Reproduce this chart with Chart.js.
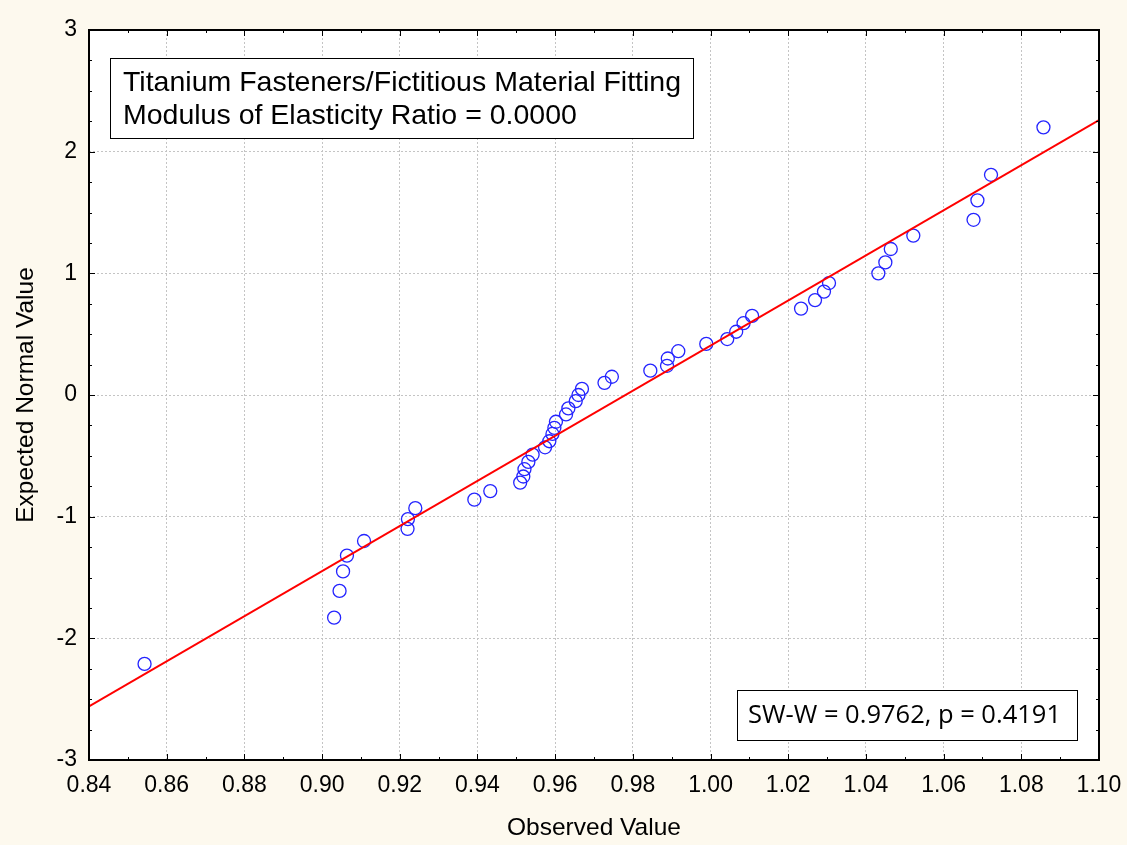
<!DOCTYPE html>
<html>
<head>
<meta charset="utf-8">
<script src="https://cdn.jsdelivr.net/npm/chart.js@4.4.1/dist/chart.umd.min.js"></script>
<style>
  html, body { margin: 0; padding: 0; background: #fdf9ee; }
</style>
</head>
<body>
<canvas id="myChart" width="1127" height="845"></canvas>
<script>
// values
const observed = [
  0.8543, 0.9031, 0.9045, 0.9054, 0.9064, 0.9108, 0.9220, 0.9221, 0.9240, 0.9392,
  0.9433, 0.9510, 0.9518, 0.9521, 0.9531, 0.9542, 0.9574, 0.9585, 0.9593, 0.9598,
  0.9602, 0.9628, 0.9634, 0.9653, 0.9660, 0.9669, 0.9727, 0.9746, 0.9845, 0.9888,
  0.9890, 0.9917, 0.9989, 1.0043, 1.0066, 1.0085, 1.0107, 1.0233, 1.0269, 1.0292,
  1.0305, 1.0432, 1.0450, 1.0464, 1.0522, 1.0677, 1.0687, 1.0722, 1.0857,
]
const expected = [
  -2.21, -1.83, -1.61, -1.45, -1.32, -1.20, -1.10, -1.02, -0.93, -0.86,
  -0.79, -0.72, -0.67, -0.61, -0.55, -0.49, -0.43, -0.38, -0.32, -0.27,
  -0.22, -0.16, -0.11, -0.05, 0.00, 0.05, 0.10, 0.15, 0.20, 0.24,
  0.30, 0.36, 0.42, 0.46, 0.52, 0.59, 0.65, 0.71, 0.78, 0.85,
  0.92, 1.00, 1.09, 1.20, 1.31, 1.44, 1.60, 1.81, 2.20,
]
const fitX = [0.84, 1.10]
const fitY = [-2.56, 2.26]

const xTickValues = [0.84, 0.86, 0.88, 0.90, 0.92, 0.94, 0.96, 0.98, 1.00, 1.02, 1.04, 1.06, 1.08, 1.10]
const xTickLabels = ['0.84', '0.86', '0.88', '0.90', '0.92', '0.94', '0.96', '0.98', '1.00', '1.02', '1.04', '1.06', '1.08', '1.10']
const yTickValues = [-3, -2, -1, 0, 1, 2, 3]
const yTickLabels = ['-3', '-2', '-1', '0', '1', '2', '3']

const titleLines = ['Titanium Fasteners/Fictitious Material Fitting', 'Modulus of Elasticity Ratio = 0.0000']
const statText = 'SW-W = 0.9762, p = 0.4191'

const arial = '"Liberation Sans", Arial, sans-serif'
const ctx = document.getElementById('myChart').getContext('2d')

// background, frame, inward tick marks and the two text boxes
const frame = {
  id: 'frame',
  beforeDraw(chart) {
    const { ctx, chartArea: a } = chart
    ctx.save()
    ctx.fillStyle = '#fdf9ee'
    ctx.fillRect(0, 0, chart.width, chart.height)
    ctx.fillStyle = '#ffffff'
    ctx.fillRect(a.left, a.top, a.right - a.left, a.bottom - a.top)
    ctx.restore()
  },
  afterDraw(chart) {
    const { ctx, chartArea: a, scales } = chart
    ctx.save()
    ctx.strokeStyle = '#000'
    ctx.lineWidth = 1
    ctx.beginPath()
    xTickValues.forEach((v, i) => {
      const x = Math.round(scales.x.getPixelForValue(v)) + 0.5
      ctx.moveTo(x, a.bottom); ctx.lineTo(x, a.bottom - 6)
      ctx.moveTo(x, a.top); ctx.lineTo(x, a.top + 6)
      if (i < xTickValues.length - 1) {
        const m = Math.round(scales.x.getPixelForValue((v + xTickValues[i + 1]) / 2)) + 0.5
        ctx.moveTo(m, a.bottom); ctx.lineTo(m, a.bottom - 3)
        ctx.moveTo(m, a.top); ctx.lineTo(m, a.top + 3)
      }
    })
    yTickValues.forEach((v, i) => {
      const y = Math.round(scales.y.getPixelForValue(v)) + 0.5
      ctx.moveTo(a.left, y); ctx.lineTo(a.left + 6, y)
      ctx.moveTo(a.right, y); ctx.lineTo(a.right - 6, y)
      if (i < yTickValues.length - 1) {
        for (let q = 1; q < 4; q++) {
          const m = Math.round(scales.y.getPixelForValue(v + q / 4)) + 0.5
          ctx.moveTo(a.left, m); ctx.lineTo(a.left + 3, m)
          ctx.moveTo(a.right, m); ctx.lineTo(a.right - 3, m)
        }
      }
    })
    ctx.stroke()

    ctx.lineWidth = 2
    ctx.strokeRect(a.left, a.top, a.right - a.left, a.bottom - a.top)

    // title box
    ctx.lineWidth = 1
    const bx = a.left + 21, by = a.top + 28, bw = 583, bh = 80
    ctx.fillStyle = '#fff'
    ctx.fillRect(bx, by, bw, bh)
    ctx.strokeRect(bx + 0.5, by + 0.5, bw, bh)
    ctx.fillStyle = '#000'
    ctx.font = '28.5px ' + arial
    ctx.textBaseline = 'middle'
    ctx.textAlign = 'left'
    ctx.fillText(titleLines[0], bx + 13, by + 25)
    ctx.fillText(titleLines[1], bx + 13, by + 58)

    // statistic box
    const sw = 340, sh = 50
    const sx = a.right - 22 - sw, sy = a.bottom - 20 - sh
    ctx.fillStyle = '#fff'
    ctx.fillRect(sx, sy, sw, sh)
    ctx.strokeRect(sx + 0.5, sy + 0.5, sw, sh)
    ctx.fillStyle = '#000'
    ctx.font = '25.5px "Open Sans", sans-serif'
    ctx.fillText(statText, sx + 11, sy + 26)
    ctx.restore()
  },
}

const myChart = new Chart(ctx, {
  type: 'scatter',
  data: {
    datasets: [
      {
        label: 'fit',
        data: fitX.map((x, i) => ({ x: x, y: fitY[i] })),
        showLine: true,
        borderColor: '#ff0000',
        borderWidth: 2,
        pointRadius: 0,
        fill: false,
      },
      {
        label: 'observed',
        data: observed.map((x, i) => ({ x: x, y: expected[i] })),
        pointRadius: 6.5,
        pointBorderWidth: 1.3,
        pointBorderColor: '#2424ff',
        pointBackgroundColor: 'rgba(0,0,0,0)',
      },
    ],
  },
  options: {
    responsive: false,
    animation: false,
    layout: { padding: { top: 30, right: 28, left: 0, bottom: 0 } },
    plugins: {
      legend: { display: false },
      tooltip: { enabled: false },
    },
    scales: {
      x: {
        type: 'linear',
        min: 0.84,
        max: 1.10,
        afterBuildTicks: (scale) => {
          scale.ticks = xTickValues.map((v) => ({ value: v }))
        },
        afterFit: (scale) => {
          scale.height = 85
          scale.paddingLeft = 0
          scale.paddingRight = 0
        },
        ticks: {
          autoSkip: false,
          maxRotation: 0,
          padding: 12,
          color: '#000',
          font: { family: arial, size: 23 },
          callback: (v, i) => xTickLabels[i],
        },
        grid: { color: '#c4c4c4', lineWidth: 1, drawTicks: false },
        border: { display: false, dash: [2, 2] },
        title: {
          display: true,
          text: 'Observed Value',
          color: '#000',
          font: { family: arial, size: 24.5 },
          padding: { top: 0, bottom: 2 },
        },
      },
      y: {
        type: 'linear',
        min: -3,
        max: 3,
        afterBuildTicks: (scale) => {
          scale.ticks = yTickValues.map((v) => ({ value: v }))
        },
        afterFit: (scale) => {
          scale.width = 89
          scale.paddingTop = 0
          scale.paddingBottom = 0
        },
        ticks: {
          autoSkip: false,
          padding: 12,
          color: '#000',
          font: { family: arial, size: 23 },
          callback: (v, i) => yTickLabels[i],
        },
        grid: { color: '#c4c4c4', lineWidth: 1, drawTicks: false },
        border: { display: false, dash: [2, 2] },
        title: {
          display: true,
          text: 'Expected Normal Value',
          color: '#000',
          font: { family: arial, size: 24.5 },
          padding: { top: 12, bottom: 0 },
        },
      },
    },
  },
  plugins: [frame],
})
</script>
</body>
</html>
